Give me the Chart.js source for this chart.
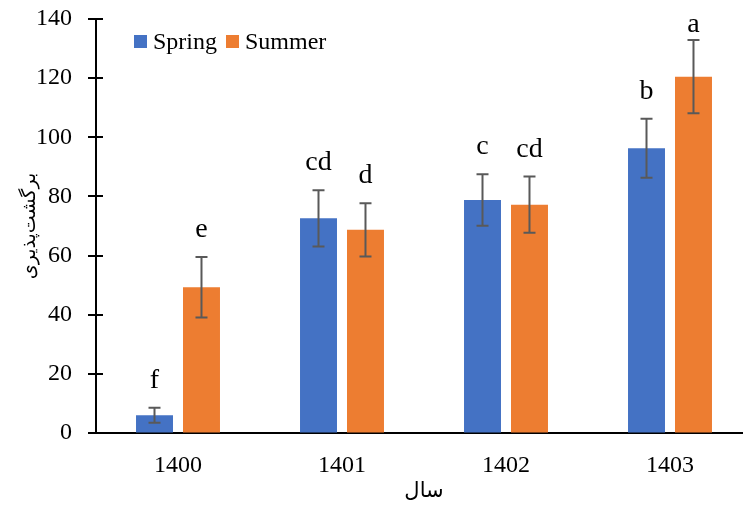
<!DOCTYPE html>
<html>
<head>
<meta charset="utf-8">
<script src="https://cdn.jsdelivr.net/npm/chart.js@4"></script>
<style>
html,body{margin:0;padding:0;overflow:hidden;background:#fff;width:743px;height:506px;}
#wrap{position:absolute;left:0;top:0;width:760px;height:506px;}
</style>
</head>
<body>
<div id="wrap"><canvas id="c" width="760" height="506"></canvas></div>
<script>
const categories = ['1400', '1401', '1402', '1403'];
const springValues = [6.0, 72.6, 78.8, 96.3];
const springErrors = [2.5, 9.5, 8.7, 10.0];
const summerValues = [49.3, 68.7, 77.2, 120.5];
const summerErrors = [10.2, 9.0, 9.5, 12.4];
const springLetters = ['f', 'cd', 'c', 'b'];
const summerLetters = ['e', 'd', 'cd', 'a'];
const yTicks = [0, 20, 40, 60, 80, 100, 120, 140];
const seriesNames = ['Spring', 'Summer'];
const xTitle = 'سال';
const yTitle = 'برگشت‌پذیری';

const BLUE = '#4472C4', ORANGE = '#ED7D31';
const SERIF = "'Liberation Serif','Times New Roman',serif";

const errorPlugin = {
  id: 'errorBars',
  afterDatasetsDraw(chart) {
    const ctx = chart.ctx, y = chart.scales.y;
    chart.data.datasets.forEach((ds, di) => {
      const meta = chart.getDatasetMeta(di);
      meta.data.forEach((bar, i) => {
        const v = ds.data[i], e = ds.errors[i];
        const yt = y.getPixelForValue(v + e), yb = y.getPixelForValue(v - e);
        ctx.save();
        ctx.strokeStyle = '#595959';
        ctx.lineWidth = 2;
        ctx.beginPath();
        ctx.moveTo(bar.x, yt); ctx.lineTo(bar.x, yb);
        ctx.moveTo(bar.x - 6, yt); ctx.lineTo(bar.x + 6, yt);
        ctx.moveTo(bar.x - 6, yb); ctx.lineTo(bar.x + 6, yb);
        ctx.stroke();
        ctx.fillStyle = '#000';
        ctx.font = '28px ' + SERIF;
        ctx.textAlign = 'center';
        ctx.textBaseline = 'alphabetic';
        const ly = Math.max(yt - 20, chart.chartArea.top + 13);
        ctx.fillText(ds.letters[i], bar.x, ly);
        ctx.restore();
      });
    });
  }
};

const tickPlugin = {
  id: 'crossTicks',
  afterDraw(chart) {
    const ctx = chart.ctx, y = chart.scales.y;
    const x0 = chart.chartArea.left;
    ctx.save();
    ctx.strokeStyle = '#000';
    ctx.lineWidth = 2;
    yTicks.forEach(t => {
      const py = Math.round(y.getPixelForValue(t));
      ctx.beginPath();
      ctx.moveTo(x0 - 8, py); ctx.lineTo(x0 + 7, py);
      ctx.stroke();
    });
    ctx.restore();
  }
};

const legendPlugin = {
  id: 'innerLegend',
  afterDraw(chart) {
    const ctx = chart.ctx;
    let x = chart.chartArea.left + 38;
    const top = chart.chartArea.top + 16;
    ctx.save();
    ctx.font = '24px ' + SERIF;
    ctx.textBaseline = 'middle';
    ctx.textAlign = 'left';
    chart.data.datasets.forEach(ds => {
      ctx.fillStyle = ds.backgroundColor;
      ctx.fillRect(x, top, 13, 13);
      ctx.fillStyle = '#000';
      ctx.fillText(ds.label, x + 19, top + 8);
      x += 19 + ctx.measureText(ds.label).width + 9;
    });
    ctx.restore();
  }
};

new Chart(document.getElementById('c'), {
  type: 'bar',
  data: {
    labels: categories,
    datasets: [
      { label: seriesNames[0], data: springValues, errors: springErrors, letters: springLetters,
        backgroundColor: BLUE, borderWidth: 0 },
      { label: seriesNames[1], data: summerValues, errors: summerErrors, letters: summerLetters,
        backgroundColor: ORANGE, borderWidth: 0 }
    ]
  },
  options: {
    responsive: false,
    animation: false,
    datasets: { bar: { categoryPercentage: 0.573, barPercentage: 0.787 } },
    layout: { padding: { left: 19, top: 19, right: 8, bottom: 0 } },
    plugins: { legend: { display: false }, tooltip: { enabled: false } },
    scales: {
      x: {
        grid: { display: true, drawOnChartArea: false, drawTicks: true, tickLength: 18, tickColor: 'rgba(0,0,0,0)' },
        border: { display: true, color: '#000', width: 2 },
        ticks: { color: '#000', font: { family: SERIF, size: 24 }, padding: 0 },
        title: { display: true, text: xTitle, color: '#000',
                 font: { family: "'DejaVu Sans',sans-serif", size: 21 }, padding: { top: 0, bottom: 2 } },
        afterFit(s) { s.height = 73; }
      },
      y: {
        min: 0, max: 140,
        afterBuildTicks(s) { s.ticks = yTicks.map(v => ({ value: v })); },
        grid: { display: true, drawOnChartArea: false, drawTicks: true, tickLength: 24, tickColor: 'rgba(0,0,0,0)' },
        border: { display: true, color: '#000', width: 2 },
        ticks: { color: '#000', font: { family: SERIF, size: 24 }, padding: 0 },
        title: { display: true, text: yTitle, color: '#000',
                 font: { family: "'DejaVu Sans',sans-serif", size: 19 }, padding: 0 },
        afterFit(s) { s.width = 77; }
      }
    }
  },
  plugins: [errorPlugin, tickPlugin, legendPlugin]
});
</script>
</body>
</html>
